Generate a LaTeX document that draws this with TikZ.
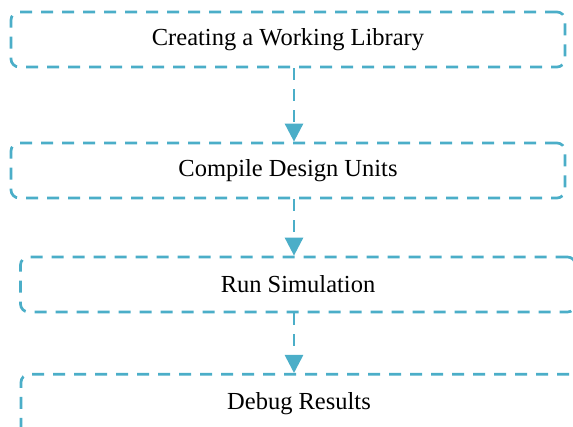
\documentclass[tikz,border=0pt]{standalone}
\usepackage{fontspec}
\setmainfont{Liberation Serif}
\usepackage{tikz}
\usetikzlibrary{arrows.meta}
\definecolor{flowblue}{RGB}{75,174,200}

\begin{document}
\begin{tikzpicture}[x=1pt,y=1pt,
        stepbox/.style={draw=flowblue,line width=2.7pt,rounded corners=8pt,dash pattern=on 12pt off 9pt,
            minimum height=55pt,inner sep=0pt,font=\fontsize{24.5}{28}\selectfont},
        flowarrow/.style={draw=flowblue,line width=2.7pt,dash pattern=on 12pt off 9pt,
            -{Triangle[width=18pt,length=18pt,fill=flowblue]}}]
        \useasboundingbox (0,0) rectangle (573,-427);
        \node[stepbox,minimum width=554pt] (lib) at (288,-39.5) {Creating a Working Library};
        \node[stepbox,minimum width=554pt] (comp) at (288,-170.5) {Compile Design Units};
        \node[stepbox,minimum width=555pt] (sim) at (298,-284.5) {Run Simulation};
        % last box runs past the lower edge
        \node[stepbox,minimum width=556pt,minimum height=70pt,text depth=17pt,anchor=north] (dbg) at (299,-373) {Debug Results};
        \coordinate (ax) at (294,0);
        \draw[flowarrow] (lib.south -| ax) -- (comp.north -| ax);
        \draw[flowarrow] (comp.south -| ax) -- (sim.north -| ax);
        \draw[flowarrow] (sim.south -| ax) -- (dbg.north -| ax);
    \end{tikzpicture}
\end{document}
